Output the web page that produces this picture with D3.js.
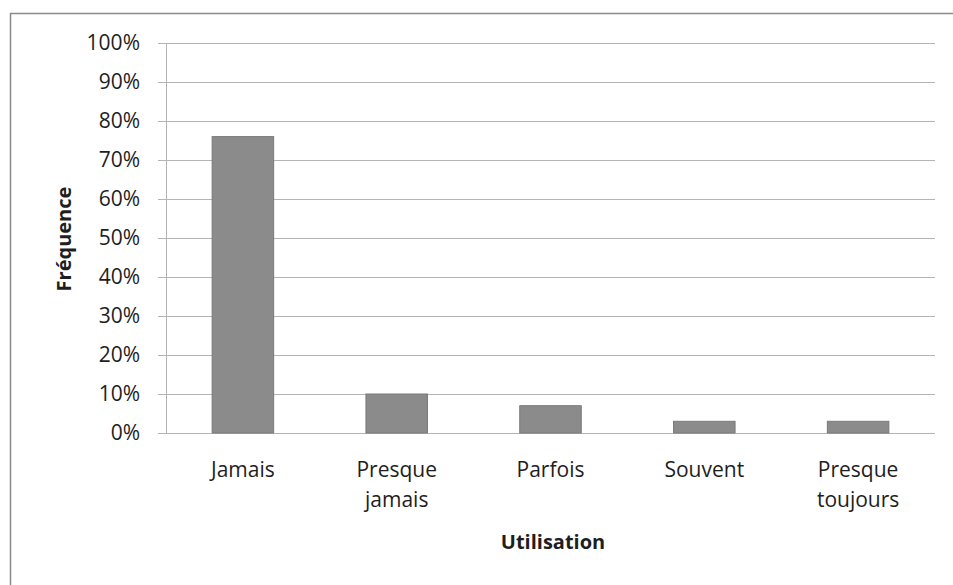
<!DOCTYPE html>
<html>
<head>
<meta charset="utf-8">
<script src="https://cdn.jsdelivr.net/npm/d3@7"></script>
<style>
  body { margin: 0; background: #fff; }
  svg { display: block; font-family: "Open Sans", sans-serif; }
</style>
</head>
<body>
<svg id="chart" width="953" height="585"></svg>
<script>
// data
var categories = [ ["Jamais"], ["Presque", "jamais"], ["Parfois"], ["Souvent"], ["Presque", "toujours"] ];
var frequence = [ 76, 10, 7, 3, 3 ];
var yTicks = [ 0, 10, 20, 30, 40, 50, 60, 70, 80, 90, 100 ];

var svg = d3.select( "#chart" );

// chart frame (runs off the right and bottom edge in the scan)
svg.append( "rect" )
	.attr( "x", 10.5 )
	.attr( "y", 13.5 )
	.attr( "width", 960 )
	.attr( "height", 600 )
	.attr( "fill", "none" )
	.attr( "stroke", "#8a8a8a" )
	.attr( "stroke-width", 1.5 );

var plotLeft = 166, plotRight = 935, plotTop = 43, plotBottom = 433;

var x = d3.scaleBand()
	.domain( d3.range( categories.length ) )
	.range( [ plotLeft, plotRight ] )
	.paddingInner( 0.6 )
	.paddingOuter( 0.3 );

var y = d3.scaleLinear()
	.domain( [ 0, 100 ] )
	.range( [ plotBottom, plotTop ] );

// gridlines
svg.append( "g" )
	.selectAll( "line" )
	.data( yTicks )
	.enter()
	.append( "line" )
		.attr( "x1", plotLeft - 8 )
		.attr( "x2", plotRight )
		.attr( "y1", function( d ) { return Math.round( y( d ) ) + 0.5; } )
		.attr( "y2", function( d ) { return Math.round( y( d ) ) + 0.5; } )
		.attr( "stroke", "#b4b4b4" )
		.attr( "stroke-width", 1 );

// y axis
var yAxis = svg.append( "g" )
	.attr( "transform", "translate(" + plotLeft + ",0)" )
	.call( d3.axisLeft( y )
		.tickValues( yTicks )
		.tickSize( 0 )
		.tickPadding( 26 )
		.tickFormat( function( d ) { return d + "%"; } ) )
	.attr( "font-family", "Open Sans, sans-serif" )
	.attr( "font-size", 21 );

yAxis.select( ".domain" ).attr( "stroke", "#b4b4b4" );
yAxis.selectAll( "text" )
	.attr( "fill", "#1e1e1e" );

// bars
svg.append( "g" )
	.selectAll( "rect" )
	.data( frequence )
	.enter()
	.append( "rect" )
		.attr( "x", function( d, i ) { return x( i ); } )
		.attr( "y", function( d ) { return y( d ); } )
		.attr( "width", x.bandwidth() )
		.attr( "height", function( d ) { return y( 0 ) - y( d ); } )
		.attr( "fill", "#8b8b8b" )
		.attr( "stroke", "#7a7a7a" )
		.attr( "stroke-width", 1 );

// category labels
var labels = svg.append( "g" )
	.selectAll( "text" )
	.data( categories )
	.enter()
	.append( "text" )
		.attr( "x", function( d, i ) { return x( i ) + x.bandwidth() / 2; } )
		.attr( "y", 477 )
		.attr( "text-anchor", "middle" )
		.attr( "fill", "#1e1e1e" )
		.style( "font-size", "21px" );

labels.selectAll( "tspan" )
	.data( function( d ) { return d; } )
	.enter()
	.append( "tspan" )
		.attr( "x", function() { return d3.select( this.parentNode ).attr( "x" ); } )
		.attr( "dy", function( d, i ) { return i === 0 ? 0 : 30; } )
		.text( function( d ) { return d; } );

// axis titles
svg.append( "text" )
	.attr( "x", 553 )
	.attr( "y", 549 )
	.attr( "text-anchor", "middle" )
	.attr( "fill", "#1e1e1e" )
	.style( "font-size", "20px" )
	.style( "font-weight", "bold" )
	.text( "Utilisation" );

svg.append( "text" )
	.attr( "transform", "translate(71,239) rotate(-90)" )
	.attr( "text-anchor", "middle" )
	.attr( "fill", "#1e1e1e" )
	.style( "font-size", "20px" )
	.style( "font-weight", "bold" )
	.text( "Fréquence" );
</script>
</body>
</html>
